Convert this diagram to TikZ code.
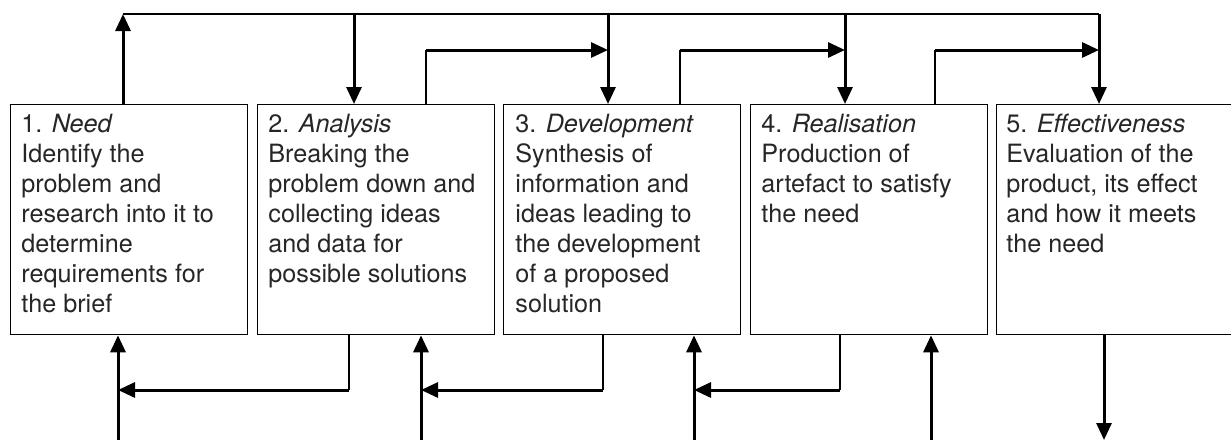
\documentclass[tikz,border=0pt]{standalone}
\usepackage{fontspec}
\setmainfont{TeX Gyre Heros}
\usetikzlibrary{arrows.meta}
\tikzset{
  stage/.style={draw, line width=0.65pt, minimum width=118.5pt, minimum height=115pt, anchor=north west, inner sep=0pt},
  stagetext/.style={anchor=north west, inner sep=0pt, align=left, font=\fontsize{12.6}{15}\selectfont, text=black!85},
  flow/.style={line width=1.5pt, -{Triangle[length=8.5pt,width=7.5pt]}},
  link/.style={line width=0.65pt},
}
\begin{document}
\begin{tikzpicture}[x=0.5pt,y=-0.5pt]
\useasboundingbox (0,0) rectangle (1231,440);
% stages
\node[stage] (b1) at (10,104){};
\node[stage] (b2) at (257,104){};
\node[stage] (b3) at (503,104){};
\node[stage] (b4) at (750,104){};
\node[stage] (b5) at (996,104){};
\node[stagetext] (s1) at (21,114){1. \textit{Need}\\Identify the\\problem and\\research into it to\\determine\\requirements for\\the brief};
\node[stagetext] (s2) at (268,114){2. \textit{Analysis}\\Breaking the\\problem down and\\collecting ideas\\and data for\\possible solutions};
\node[stagetext] (s3) at (515,114){3. \textit{Development}\\Synthesis of\\information and\\ideas leading to\\the development\\of a proposed\\solution};
\node[stagetext] (s4) at (761,114){4. \textit{Realisation}\\Production of\\artefact to satisfy\\the need};
\node[stagetext] (s5) at (1006,114){5. \textit{Effectiveness}\\Evaluation of the\\product, its effect\\and how it meets\\the need};
% top loop
\coordinate (t1) at (123,14);
\coordinate (t2) at (354,14);
\coordinate (t3) at (608,14);
\coordinate (t4) at (845,14);
\coordinate (t5) at (1099,14);
\draw[link](t1) -- (t5);
\draw[flow](b1.north -| t1) -- (t1);
\draw[flow](t2) -- (b2.north -| t2);
\draw[flow](t3) -- (b3.north -| t3);
\draw[flow](t4) -- (b4.north -| t4);
\draw[flow](t5) -- (b5.north -| t5);
% forward links
\coordinate (m2) at (426,50);
\coordinate (m3) at (680,50);
\coordinate (m4) at (935,50);
\draw[link](b2.north -| m2) -- (m2);
\draw[link](b3.north -| m3) -- (m3);
\draw[link](b4.north -| m4) -- (m4);
\draw[flow](m2) -- (m2 -| t3);
\draw[flow](m3) -- (m3 -| t4);
\draw[flow](m4) -- (m4 -| t5);
% inputs from below
\coordinate (u1) at (118,440);
\coordinate (u2) at (421,440);
\coordinate (u3) at (694,440);
\coordinate (u4) at (931,440);
\coordinate (d5) at (1104,440);
\draw[flow](u1) -- (b1.south -| u1);
\draw[flow](u2) -- (b2.south -| u2);
\draw[flow](u3) -- (b3.south -| u3);
\draw[flow](u4) -- (b4.south -| u4);
\draw[flow](b5.south -| d5) -- (d5);
% feedback links
\coordinate (r2) at (349,390);
\coordinate (r3) at (603,390);
\coordinate (r4) at (840,390);
\draw[link](b2.south -| r2) -- (r2);
\draw[link](b3.south -| r3) -- (r3);
\draw[link](b4.south -| r4) -- (r4);
\draw[flow](r2) -- (r2 -| u1);
\draw[flow](r3) -- (r3 -| u2);
\draw[flow](r4) -- (r4 -| u3);
\end{tikzpicture}
\end{document}
